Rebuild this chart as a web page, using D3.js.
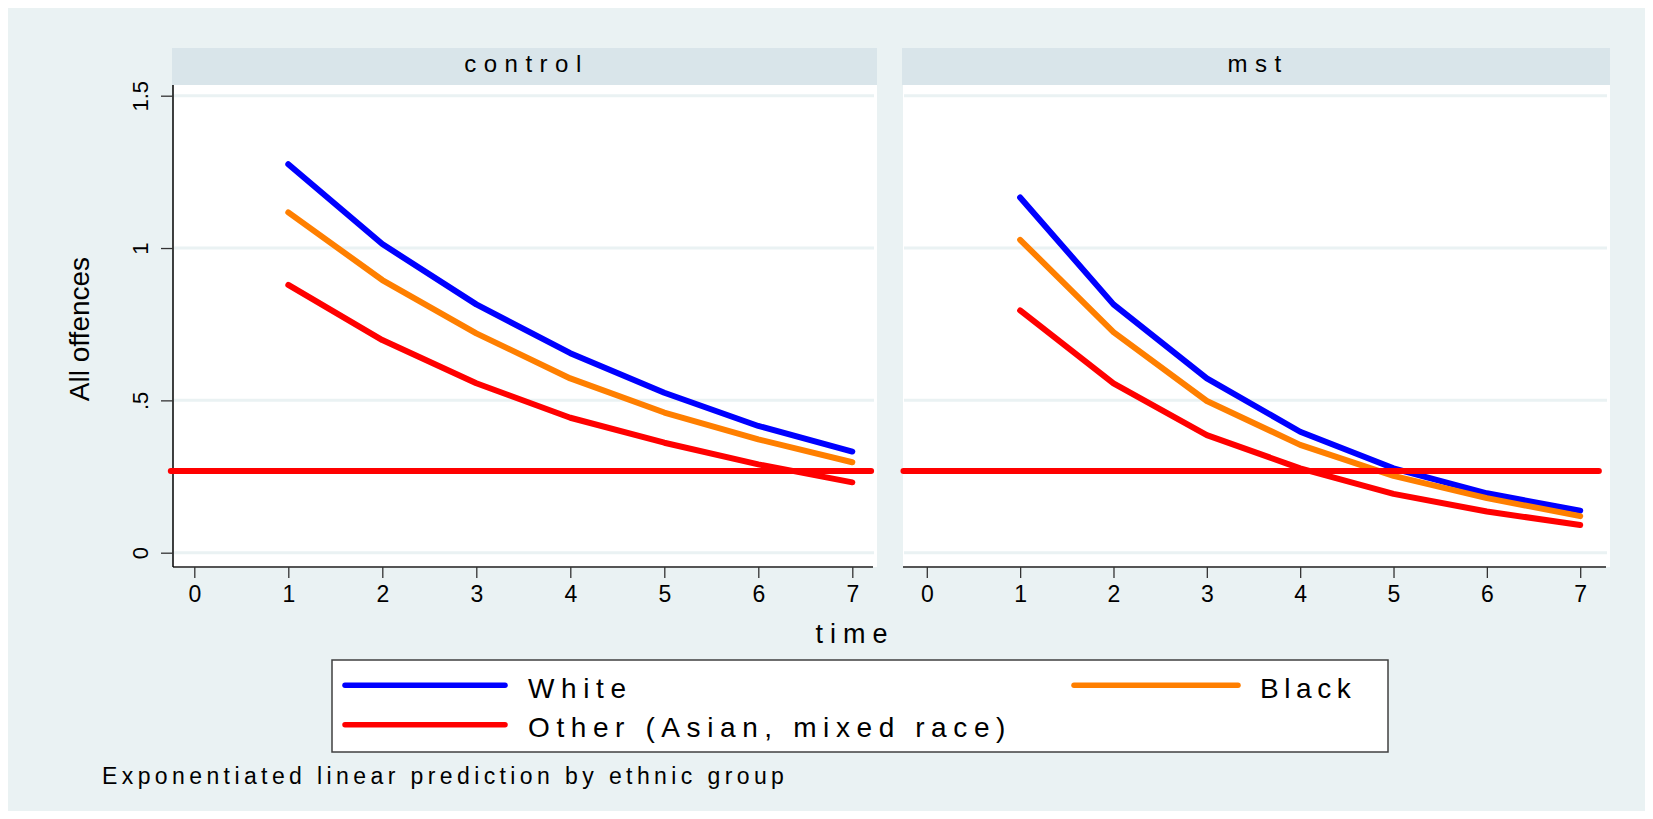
<!DOCTYPE html>
<html>
<head>
<meta charset="utf-8">
<script src="https://cdn.jsdelivr.net/npm/d3@7"></script>
<style>
  html, body { margin: 0; padding: 0; background: #ffffff; }
  svg { display: block; }
  text { font-family: "Liberation Sans", Arial, "DejaVu Sans", sans-serif; fill: #000; }
</style>
</head>
<body>
<script>
// ---------------- data ----------------
const panels = ["control", "mst"];
const times = [1, 2, 3, 4, 5, 6, 7];
const groups = ["White", "Black", "Other (Asian, mixed race)"];
const controlWhite = [1.275, 1.013, 0.815, 0.655, 0.525, 0.416, 0.332];
const controlBlack = [1.117, 0.895, 0.720, 0.572, 0.460, 0.372, 0.297];
const controlOther = [0.879, 0.698, 0.556, 0.443, 0.361, 0.290, 0.231];
const mstWhite = [1.166, 0.815, 0.572, 0.397, 0.277, 0.195, 0.138];
const mstBlack = [1.027, 0.724, 0.498, 0.354, 0.252, 0.179, 0.120];
const mstOther = [0.795, 0.556, 0.386, 0.277, 0.193, 0.135, 0.091];
const referenceLine = 0.268;
const referenceSpan = [-0.25, 7.2];
const xTicks = [0, 1, 2, 3, 4, 5, 6, 7];
const yTicks = [0, 0.5, 1, 1.5];
const yTickLabels = ["0", ".5", "1", "1.5"];
const yTitle = "All offences";
const xTitle = "time";
const note = "Exponentiated linear prediction by ethnic group";

// ---------------- styles ----------------
const colors = ["#0000ff", "#ff7f00", "#ff0000"];
const bg = "#eaf2f3", stripBg = "#d9e5ea", gridCol = "#eaf2f3";

const seriesByPanel = {
  control: [controlWhite, controlBlack, controlOther],
  mst: [mstWhite, mstBlack, mstOther]
};

const W = 1653, H = 819;
const svg = d3.select("body").append("svg").attr("width", W).attr("height", H);

svg.append("rect").attr("x", 8).attr("y", 8).attr("width", 1637).attr("height", 803).attr("fill", bg);

// panel geometry
const panelGeom = [
  { left: 172, right: 877, x0: 194.3, x7: 852.3 },
  { left: 902, right: 1610, x0: 926.8, x7: 1580.2 }
];
const stripTop = 48, plotTop = 85, plotBottom = 567;
const y = d3.scaleLinear().domain([0, 1.5]).range([552.7, 95.7]);

panels.forEach((p, i) => {
  const g = panelGeom[i];
  const x = d3.scaleLinear().domain([0, 7]).range([g.x0, g.x7]);
  const pg = svg.append("g");

  // strip
  pg.append("rect").attr("x", g.left).attr("y", stripTop).attr("width", g.right - g.left)
    .attr("height", plotTop - stripTop).attr("fill", stripBg);
  pg.append("text").attr("x", (g.left + g.right) / 2 + 2).attr("y", 72)
    .attr("text-anchor", "middle").attr("font-size", 24).attr("letter-spacing", 7.5).text(p);

  // plot region
  pg.append("rect").attr("x", g.left + 1).attr("y", plotTop).attr("width", g.right - g.left - 1)
    .attr("height", plotBottom - plotTop).attr("fill", "#fff");

  // grid
  pg.append("g").selectAll("line").data(yTicks).join("line")
    .attr("x1", g.left + 2).attr("x2", g.right - 3)
    .attr("y1", d => y(d)).attr("y2", d => y(d))
    .attr("stroke", gridCol).attr("stroke-width", 3);

  // x axis
  const xAxis = d3.axisBottom(x).tickValues(xTicks).tickSize(11).tickPadding(5).tickFormat(d3.format("d"));
  const xa = pg.append("g").attr("transform", `translate(0,${plotBottom})`).call(xAxis);
  xa.select(".domain").attr("d", `M${g.left + 1},0H${g.right - 4}`).attr("stroke", "#555").attr("stroke-width", 2);
  xa.selectAll(".tick line").attr("stroke", "#333").attr("stroke-width", 1.3);
  xa.selectAll(".tick text").attr("font-size", 23).attr("font-family", "Liberation Sans, Arial, sans-serif")
    .attr("fill", "#000").attr("dy", null).attr("y", 34.5);

  // y axis only on first panel
  if (i === 0) {
    const yAxis = d3.axisLeft(y).tickValues(yTicks).tickSize(12).tickFormat((d, k) => yTickLabels[k]);
    const ya = pg.append("g").attr("transform", `translate(${g.left + 1},0)`).call(yAxis);
    ya.select(".domain").attr("d", `M0,${plotTop}V${plotBottom}`).attr("stroke", "#000").attr("stroke-width", 1.5);
    ya.selectAll(".tick line").attr("stroke", "#333").attr("stroke-width", 1.3);
    ya.selectAll(".tick text")
      .attr("font-size", 22).attr("font-family", "Liberation Sans, Arial, sans-serif").attr("fill", "#000")
      .attr("x", null).attr("dy", null).attr("text-anchor", "middle")
      .attr("transform", "translate(-25.5,0) rotate(-90)");
  }

  // series lines
  const line = d3.line().x((d, k) => x(times[k])).y(d => y(d));
  seriesByPanel[p].forEach((vals, s) => {
    pg.append("path").attr("d", line(vals)).attr("fill", "none")
      .attr("stroke", colors[s]).attr("stroke-width", 6)
      .attr("stroke-linejoin", "round").attr("stroke-linecap", "round");
  });

  // reference line
  pg.append("line")
    .attr("x1", x(referenceSpan[0])).attr("x2", x(referenceSpan[1]))
    .attr("y1", y(referenceLine)).attr("y2", y(referenceLine))
    .attr("stroke", "#ff0000").attr("stroke-width", 6).attr("stroke-linecap", "round");
});

// y title
svg.append("text").attr("transform", "translate(88.5,329) rotate(-90)")
  .attr("text-anchor", "middle").attr("font-size", 28).text(yTitle);

// x title
svg.append("text").attr("x", 855).attr("y", 643).attr("text-anchor", "middle")
  .attr("font-size", 27).attr("letter-spacing", 7).text(xTitle);

// legend
const lg = svg.append("g");
lg.append("rect").attr("x", 332).attr("y", 660).attr("width", 1056).attr("height", 92)
  .attr("fill", "#fff").attr("stroke", "#404040").attr("stroke-width", 1.5);
const legendPos = [
  { x1: 345, x2: 505, y: 685.3, tx: 528 },
  { x1: 1074, x2: 1238, y: 685.3, tx: 1260 },
  { x1: 345, x2: 505, y: 724.7, tx: 528 }
];
groups.forEach((name, s) => {
  const lp = legendPos[s];
  lg.append("line").attr("x1", lp.x1).attr("x2", lp.x2).attr("y1", lp.y).attr("y2", lp.y)
    .attr("stroke", colors[s]).attr("stroke-width", 5.5).attr("stroke-linecap", "round");
  lg.append("text").attr("x", lp.tx).attr("y", lp.y + 12.6).attr("font-size", 28)
    .attr("letter-spacing", s === 1 ? 5.6 : 6.6).text(name);
});

// note
svg.append("text").attr("x", 102).attr("y", 783.5).attr("font-size", 23)
  .attr("letter-spacing", 4.4).text(note);
</script>
</body>
</html>
